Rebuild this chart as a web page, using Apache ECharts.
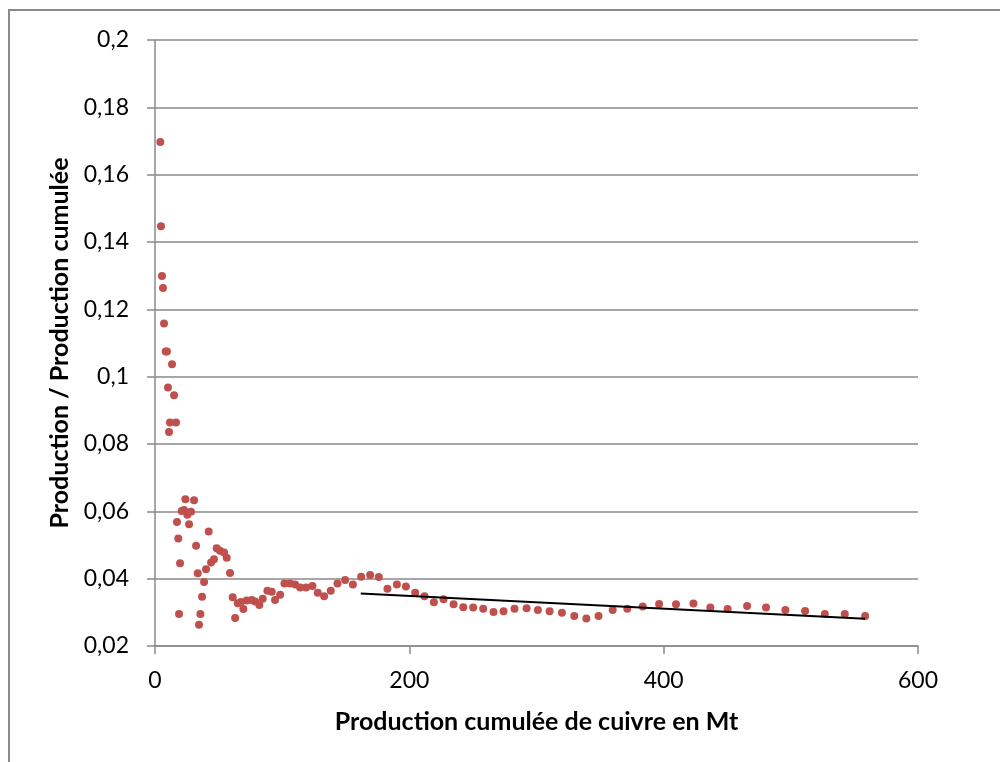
<!DOCTYPE html>
<html>
<head>
<meta charset="utf-8">
<script src="https://cdn.jsdelivr.net/npm/echarts@6/dist/echarts.min.js"></script>
<style>
  html, body { margin: 0; padding: 0; background: #fff; }
  #chart { width: 1000px; height: 762px; }
</style>
</head>
<body>
<div id="chart"></div>
<script>
// Production cumulée (Mt)
var cumulativeProduction = [
  4.2, 4.7, 5.5, 6.3, 7.1, 8.4, 9.4, 10.2, 11.0, 11.8, 13.4, 15.0, 16.5, 17.3, 18.3, 18.9, 19.7,
  21.0, 22.8, 23.9, 25.4, 26.8, 28.3, 30.7, 32.3, 33.6, 34.6, 35.7, 37.0, 38.6, 40.1, 42.2, 44.1,
  46.4, 48.5, 51.1, 54.3, 56.4, 59.0, 61.1, 63.0, 65.1, 67.5, 69.5, 72.1, 76.1, 78.7, 82.1, 84.7,
  88.4, 91.8, 94.4, 98.4, 101.8, 106.2, 110.2, 114.1, 118.8, 123.8, 128.0, 133.0, 138.2, 143.5,
  149.5, 155.6, 162.1, 169.2, 176.0, 182.8, 190.2, 197.3, 204.6, 211.9, 219.3, 226.9, 234.8,
  242.4, 250.2, 258.1, 266.2, 274.1, 282.7, 292.2, 301.1, 310.3, 320.0, 329.7, 339.2, 348.8,
  359.9, 371.4, 383.5, 396.4, 409.7, 423.4, 436.7, 450.3, 465.6, 480.5, 495.7, 511.2, 526.7,
  542.4, 558.4
];
// Production / Production cumulée
var ratio = [
  0.1697, 0.1447, 0.1299, 0.1263, 0.1158, 0.1075, 0.1075, 0.0968, 0.0836, 0.0864, 0.1037, 0.0945, 0.0864, 0.0568, 0.0519, 0.0295, 0.0446,
  0.0601, 0.0604, 0.0636, 0.0590, 0.0562, 0.0599, 0.0633, 0.0498, 0.0416, 0.0263, 0.0295, 0.0346, 0.0390, 0.0428, 0.0540, 0.0448,
  0.0458, 0.0490, 0.0483, 0.0478, 0.0462, 0.0417, 0.0345, 0.0283, 0.0327, 0.0331, 0.0310, 0.0335, 0.0337, 0.0332, 0.0322, 0.0340,
  0.0364, 0.0361, 0.0337, 0.0352, 0.0386, 0.0386, 0.0383, 0.0374, 0.0374, 0.0378, 0.0358, 0.0348, 0.0364, 0.0386,
  0.0396, 0.0383, 0.0406, 0.0411, 0.0405, 0.0370, 0.0383, 0.0377, 0.0358, 0.0348, 0.0330, 0.0339, 0.0324,
  0.0315, 0.0314, 0.0311, 0.0301, 0.0303, 0.0311, 0.0312, 0.0307, 0.0303, 0.0299, 0.0289, 0.0282, 0.0289,
  0.0307, 0.0311, 0.0317, 0.0325, 0.0324, 0.0326, 0.0314, 0.0310, 0.0319, 0.0314, 0.0307, 0.0304, 0.0295,
  0.0295, 0.0289
];
// Linear trend line endpoints
var trendX = [161.8, 558.4];
var trendY = [0.0356, 0.0281];

var xTicks = [0, 200, 400, 600];
var yTicks = [0.02, 0.04, 0.06, 0.08, 0.1, 0.12, 0.14, 0.16, 0.18, 0.2];

var xTitle = 'Production cumulée de cuivre en Mt';
var yTitle = 'Production / Production cumulée';

var scatterData = cumulativeProduction.map(function (x, i) { return [x, ratio[i]]; });
var trendData = trendX.map(function (x, i) { return [x, trendY[i]]; });

var FONT = 'Lato, "Open Sans", sans-serif';
var GRID_COLOR = '#8a8a8a';

var chart = echarts.init(document.getElementById('chart'), null, { renderer: 'canvas' });
chart.setOption({
  backgroundColor: '#ffffff',
  animation: false,
  graphic: [{
    type: 'rect',
    shape: { x: 9, y: 10, width: 1010, height: 780 },
    style: { fill: 'none', stroke: '#8a8a8a', lineWidth: 2 },
    silent: true, z: -1
  }],
  grid: { left: 155, right: 82, top: 40, bottom: 116, containLabel: false },
  xAxis: {
    type: 'value',
    min: xTicks[0], max: xTicks[xTicks.length - 1], interval: 200,
    name: xTitle, nameLocation: 'middle', nameGap: 63,
    nameTextStyle: { fontFamily: FONT, fontWeight: 'bold', fontSize: 25, color: '#000' },
    axisLine: { show: true, onZero: false, lineStyle: { color: GRID_COLOR, width: 1.5 } },
    axisTick: { show: true, length: 8, lineStyle: { color: GRID_COLOR, width: 1.5 } },
    axisLabel: { fontFamily: FONT, fontSize: 23, color: '#000', margin: 23 },
    splitLine: { show: false }
  },
  yAxis: {
    type: 'value',
    min: yTicks[0], max: yTicks[yTicks.length - 1], interval: 0.02,
    name: yTitle, nameLocation: 'middle', nameGap: 80,
    nameTextStyle: { fontFamily: FONT, fontWeight: 'bold', fontSize: 25, color: '#000' },
    axisLine: { show: true, onZero: false, lineStyle: { color: GRID_COLOR, width: 1.5 } },
    axisTick: { show: true, length: 8, lineStyle: { color: GRID_COLOR, width: 1.5 } },
    axisLabel: {
      fontFamily: FONT, fontSize: 23, color: '#000', margin: 26,
      formatter: function (v) { return String(Math.round(v * 100) / 100).replace('.', ','); }
    },
    splitLine: { show: true, lineStyle: { color: GRID_COLOR, width: 1.5 } }
  },
  series: [
    {
      type: 'scatter',
      data: scatterData,
      symbol: 'circle',
      symbolSize: 8,
      itemStyle: { color: '#C0504D', opacity: 1 },
      z: 3
    },
    {
      type: 'line',
      data: trendData,
      symbol: 'none',
      lineStyle: { color: '#000', width: 2 },
      z: 4
    }
  ]
});
</script>
</body>
</html>
